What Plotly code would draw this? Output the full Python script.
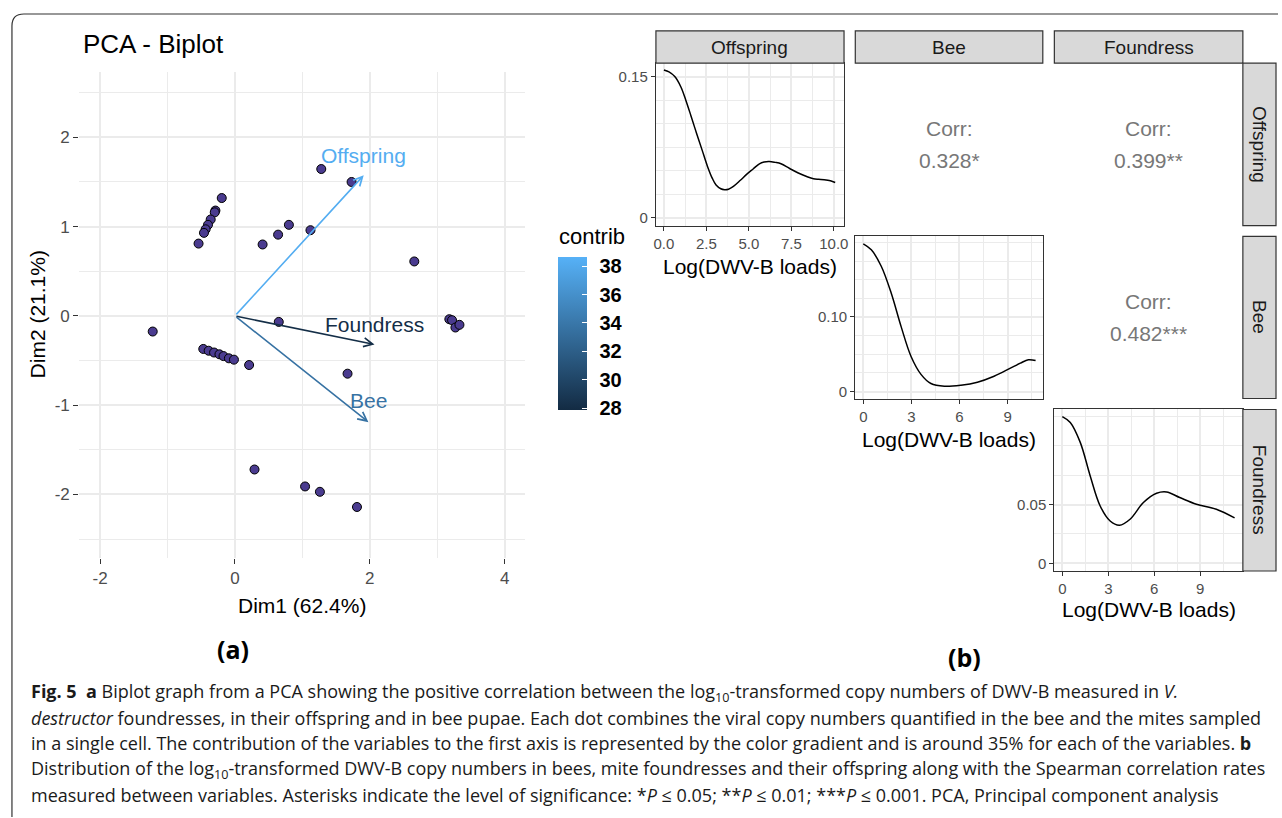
import plotly.graph_objects as go
from plotly.colors import sample_colorscale

# ---------------- data ----------------
# PCA individuals (Dim1, Dim2)
ind_dim1 = [-0.196, -0.29, -0.30, -0.36, -0.40, -0.435, -0.46, -0.54,
            0.41, 0.64, 0.80, 1.12, 1.28, 1.73, 2.66,
            3.18, 3.22, 3.27, 3.33, 0.65, -1.22,
            -0.47, -0.39, -0.31, -0.23, -0.17, -0.09, -0.015,
            0.21, 1.67, 0.29, 1.04, 1.26, 1.81]
ind_dim2 = [1.32, 1.18, 1.16, 1.08, 1.02, 0.97, 0.93, 0.81,
            0.80, 0.91, 1.02, 0.96, 1.645, 1.50, 0.61,
            -0.037, -0.048, -0.13, -0.10, -0.067, -0.175,
            -0.37, -0.39, -0.41, -0.43, -0.45, -0.475, -0.49,
            -0.55, -0.647, -1.72, -1.91, -1.97, -2.14]

# PCA variables
var_names = ["Offspring", "Foundress", "Bee"]
var_dim1 = [1.91, 2.07, 1.98]
var_dim2 = [1.575, -0.32, -1.19]
var_contrib = [38.3, 28.1, 33.6]
var_label_x = [1.90, 2.07, 1.98]
var_label_y = [1.80, -0.097, -0.95]

pca_xticks = [-2, 0, 2, 4]
pca_xtext = ["-2", "0", "2", "4"]
pca_yticks = [-2, -1, 0, 1, 2]
pca_ytext = ["-2", "-1", "0", "1", "2"]
contrib_ticks = [28, 30, 32, 34, 36, 38]

# Densities of log(DWV-B loads)
off_x = [0, 0.3, 0.64, 1.0, 1.29, 1.6, 1.92, 2.25, 2.56, 2.85, 3.07, 3.35, 3.57, 3.8,
         4.09, 4.5, 4.85, 5.25, 5.62, 5.9, 6.2, 6.55, 6.89, 7.4, 7.91, 8.4, 8.8, 9.1, 9.43, 9.8, 10.08]
off_y = [0.157, 0.155, 0.150, 0.139, 0.125, 0.108, 0.090, 0.072, 0.055, 0.042, 0.035, 0.031, 0.030, 0.0305,
         0.0335, 0.040, 0.046, 0.052, 0.0575, 0.0595, 0.060, 0.059, 0.0575, 0.0525, 0.0477, 0.0440, 0.0416,
         0.0410, 0.0406, 0.0395, 0.0377]
bee_x = [0, 0.5, 1.12, 1.74, 2.36, 2.98, 3.6, 4.22, 5.06, 6.09, 7.12, 8.16, 9.21, 9.8, 10.3, 10.75]
bee_y = [0.198, 0.190, 0.168, 0.132, 0.087, 0.047, 0.023, 0.0107, 0.0071, 0.0085, 0.0125, 0.0205,
         0.0317, 0.038, 0.0425, 0.0415]
fou_x = [0, 0.52, 1.17, 1.82, 2.47, 3.12, 3.73, 4.42, 5.29, 6.15, 6.80, 7.66, 8.75, 10.05, 11.24]
fou_y = [0.125, 0.120, 0.103, 0.0744, 0.0488, 0.036, 0.0324, 0.0375, 0.0517, 0.0596, 0.0607, 0.056,
         0.0503, 0.046, 0.0386]

corr_labels = {"(1,2)": "0.328*", "(1,3)": "0.399**", "(2,3)": "0.482***"}
strip_names = ["Offspring", "Bee", "Foundress"]

# ---------------- helpers ----------------
W, H = 1282, 818
def fx(p): return p / W
def fy(p): return 1 - p / H

FONT = "Liberation Sans, Arial, sans-serif"
GRID = "#EBEBEB"
DARK = "#333333"
cscale = [[0, "#132B43"], [1, "#56B1F7"]]
cmin, cmax = 27.88, 38.66
var_colors = sample_colorscale(cscale, [(c - cmin) / (cmax - cmin) for c in var_contrib])

fig = go.Figure()

# ---------------- (a) PCA biplot ----------------
fig.add_trace(go.Scatter(
    x=ind_dim1, y=ind_dim2, mode="markers", xaxis="x", yaxis="y",
    marker=dict(size=9, color="#4A3B8F", line=dict(color="black", width=1)),
    showlegend=False, hoverinfo="skip"))

cb_common = dict(x=fx(559), xanchor="left", y=fy(333.7), yanchor="middle",
                 len=152.7, lenmode="pixels", thickness=28.7, thicknessmode="pixels",
                 outlinewidth=0, tickvals=contrib_ticks, xpad=0, ypad=0)
# colour bar with labels (transparent outside ticks to space the labels)
fig.add_trace(go.Scatter(
    x=var_dim1, y=var_dim2, mode="markers", xaxis="x", yaxis="y",
    marker=dict(size=1, opacity=0, color=var_contrib, colorscale=cscale, cmin=cmin, cmax=cmax,
                showscale=True,
                colorbar=dict(**cb_common, ticks="outside", ticklen=9, tickcolor="rgba(0,0,0,0)",
                              tickfont=dict(size=20, color="black", family=FONT, weight="bold"))),
    showlegend=False, hoverinfo="skip"))
# same colour bar on top, carrying the white inside tick marks
fig.add_trace(go.Scatter(
    x=var_dim1, y=var_dim2, mode="markers", xaxis="x", yaxis="y",
    marker=dict(size=1, opacity=0, color=var_contrib, colorscale=cscale, cmin=cmin, cmax=cmax,
                showscale=True,
                colorbar=dict(**cb_common, ticks="inside", ticklen=5, tickcolor="white", tickwidth=1,
                              showticklabels=False)),
    showlegend=False, hoverinfo="skip"))

annotations = []
shapes = []

def pann(x, y, text, size, color="black", family=FONT, **kw):
    d = dict(x=fx(x), y=fy(y), xref="paper", yref="paper", text=text, showarrow=False,
             xanchor="center", yanchor="middle", font=dict(size=size, color=color, family=family))
    d.update(kw)
    annotations.append(d)

for i, name in enumerate(var_names):
    annotations.append(dict(x=var_dim1[i], y=var_dim2[i], ax=0, ay=0, xref="x", yref="y",
                            axref="x", ayref="y", text="", showarrow=True, arrowhead=5,
                            arrowsize=1.1, arrowwidth=1.6, arrowcolor=var_colors[i]))
    annotations.append(dict(x=var_label_x[i], y=var_label_y[i], xref="x", yref="y", text=name,
                            xanchor="center", yanchor="middle",
                            showarrow=False, font=dict(size=21, color=var_colors[i], family=FONT)))

pann(558, 236.7, "contrib", 22, xanchor="left")

# dashed reference lines
shapes.append(dict(type="line", xref="x", yref="y domain", x0=0, x1=0, y0=0, y1=1,
                   line=dict(color="black", width=1.8, dash="dash"), layer="below"))
shapes.append(dict(type="line", xref="x domain", yref="y", x0=0, x1=1, y0=0, y1=0,
                   line=dict(color="black", width=1.8, dash="dash"), layer="below"))

layout_axes = dict(
    xaxis=dict(domain=[fx(77.6), fx(525.3)], range=[-2.31, 4.30], anchor="y",
               tickvals=pca_xticks, ticktext=pca_xtext, ticks="outside", ticklen=5, tickwidth=1.3,
               tickcolor=DARK, tickfont=dict(size=17, color="#4D4D4D", family=FONT),
               showgrid=True, gridcolor=GRID, gridwidth=1.6, zeroline=False, showline=False,
               minor=dict(tickvals=[-1, 1, 3], showgrid=True, gridcolor=GRID, gridwidth=0.9, ticks="")),
    yaxis=dict(domain=[fy(558.3), fy(71.7)], range=[-2.707, 2.736], anchor="x",
               tickvals=pca_yticks, ticktext=pca_ytext, ticks="outside", ticklen=5, tickwidth=1.3,
               tickcolor=DARK, tickfont=dict(size=17, color="#4D4D4D", family=FONT),
               showgrid=True, gridcolor=GRID, gridwidth=1.6, zeroline=False, showline=False,
               minor=dict(tickvals=[-2.5, -1.5, -0.5, 0.5, 1.5, 2.5], showgrid=True,
                          gridcolor=GRID, gridwidth=0.9, ticks="")),
)

pann(79, 44, "PCA - Biplot", 26, xanchor="left")
pann(301.5, 606.7, "Dim1 (62.4%)", 21)
pann(36, 315, "Dim2 (21.1%)", 21, textangle=-90)

# ---------------- (b) pairs matrix ----------------
cols = [(657, 846), (857.3, 1045.7), (1057.3, 1246.7)]
rows = [(63.3, 226), (236.7, 399), (410, 571.7)]

off_rng = [-0.5, 10.58]
bee_rng = [-0.5, 11.2]
fou_rng = [-0.52, 11.78]
ticks3 = [0, 3, 6, 9]
minor3 = [1.5, 4.5, 7.5, 10.5]
ticks25 = [0, 2.5, 5, 7.5, 10]
minor25 = [1.25, 3.75, 6.25, 8.75]

def ax_style(dom, rng, tv, mv, labels, ttext=None, anchor=None, fmt=None):
    d = dict(domain=dom, range=rng, anchor=anchor, tickvals=tv, showgrid=True, gridcolor=GRID,
             gridwidth=1.5, zeroline=False, showline=True, mirror=True, linecolor=DARK, linewidth=1.2,
             minor=dict(tickvals=mv, showgrid=True, gridcolor=GRID, gridwidth=1.0, ticks=""))
    if labels:
        d.update(ticks="outside", ticklen=4, tickcolor=DARK, tickwidth=1,
                 tickfont=dict(size=15, color="#4D4D4D", family=FONT), showticklabels=True)
        if ttext is not None:
            d["ticktext"] = ttext
        if fmt:
            d["tickformat"] = fmt
    else:
        d.update(ticks="", showticklabels=False)
    return d

def xdom(c): return [fx(cols[c][0]), fx(cols[c][1])]
def ydom(r): return [fy(rows[r][1]), fy(rows[r][0])]

layout_axes["xaxis2"] = ax_style(xdom(0), [-0.469, 10.6], ticks25, minor25, True, anchor="y2", fmt=".1f")
layout_axes["yaxis2"] = ax_style(ydom(0), [-0.0082, 0.1642], [0, 0.15],
                                 [0.025, 0.05, 0.075, 0.10, 0.125], True, ["0", "0.15"], anchor="x2")
layout_axes["xaxis3"] = ax_style(xdom(1), bee_rng, ticks3, minor3, False, anchor="y3")
layout_axes["yaxis3"] = ax_style(ydom(0), off_rng, ticks25, minor25, False, anchor="x3")
layout_axes["xaxis4"] = ax_style(xdom(2), fou_rng, ticks3, minor3, False, anchor="y4")
layout_axes["yaxis4"] = ax_style(ydom(0), off_rng, ticks25, minor25, False, anchor="x4")
layout_axes["xaxis5"] = ax_style(xdom(1), bee_rng, ticks3, minor3, True, anchor="y5")
layout_axes["yaxis5"] = ax_style(ydom(1), [-0.0094, 0.208], [0, 0.10],
                                 [0.025, 0.05, 0.075, 0.125, 0.15, 0.175, 0.2], True, ["0", "0.10"], anchor="x5")
layout_axes["xaxis6"] = ax_style(xdom(2), fou_rng, ticks3, minor3, False, anchor="y6")
layout_axes["yaxis6"] = ax_style(ydom(1), bee_rng, ticks3, minor3, False, anchor="x6")
layout_axes["xaxis7"] = ax_style(xdom(2), fou_rng, ticks3, minor3, True, anchor="y7")
layout_axes["yaxis7"] = ax_style(ydom(2), [-0.0066, 0.131], [0, 0.05],
                                 [0.025, 0.075, 0.10, 0.125], True, ["0", "0.05"], anchor="x7")

for xs, ys, ax in [(off_x, off_y, "2"), (bee_x, bee_y, "5"), (fou_x, fou_y, "7")]:
    fig.add_trace(go.Scatter(x=xs, y=ys, mode="lines", xaxis="x" + ax, yaxis="y" + ax,
                             line=dict(color="black", width=1.5, shape="spline", smoothing=1.0),
                             showlegend=False, hoverinfo="skip"))

# corr text
for (r, c), key in [((0, 1), "(1,2)"), ((0, 2), "(1,3)"), ((1, 2), "(2,3)")]:
    cx = (cols[c][0] + cols[c][1]) / 2
    cy = (rows[r][0] + rows[r][1]) / 2
    pann(cx, cy - 15.5, "Corr:", 21, "#777777")
    pann(cx, cy + 16, corr_labels[key], 21, "#777777")

# strips
for c, name in enumerate(strip_names):
    shapes.append(dict(type="rect", xref="paper", yref="paper", x0=fx(cols[c][0]), x1=fx(cols[c][1]),
                       y0=fy(63.3), y1=fy(31), fillcolor="#D9D9D9", line=dict(color=DARK, width=1.2)))
    pann((cols[c][0] + cols[c][1]) / 2, 47.2, name, 19, "#1A1A1A")
for r, name in enumerate(strip_names):
    shapes.append(dict(type="rect", xref="paper", yref="paper", x0=fx(1246.7), x1=fx(1280),
                       y0=fy(rows[r][1]), y1=fy(rows[r][0]), fillcolor="#D9D9D9",
                       line=dict(color=DARK, width=1.2)))
    pann(1263.3, (rows[r][0] + rows[r][1]) / 2, name, 19, "#1A1A1A", textangle=90)

# density x-axis titles
for c, yy in [(0, 266.7), (1, 440), (2, 610)]:
    pann((cols[c][0] + cols[c][1]) / 2, yy, "Log(DWV-B loads)", 21)

# panel labels
pann(232, 650, "<b>(a)</b>", 25, family="Open Sans")
pann(967, 658, "<b>(b)</b>", 25, family="Open Sans")

# caption
caption = [
    "<b>Fig. 5</b>  <b>a</b> Biplot graph from a PCA showing the positive correlation between the "
    "log<sub>10</sub>-transformed copy numbers of DWV-B measured in <i>V.</i>",
    "<i>destructor</i> foundresses, in their offspring and in bee pupae. Each dot combines the viral copy "
    "numbers quantified in the bee and the mites sampled",
    "in a single cell. The contribution of the variables to the first axis is represented by the color "
    "gradient and is around 35% for each of the variables. <b>b</b>",
    "Distribution of the log<sub>10</sub>-transformed DWV-B copy numbers in bees, mite foundresses and "
    "their offspring along with the Spearman correlation rates",
    "measured between variables. Asterisks indicate the level of significance: *<i>P</i> ≤ 0.05; "
    "**<i>P</i> ≤ 0.01; ***<i>P</i> ≤ 0.001. PCA, Principal component analysis",
]
cap_y = [693, 719, 744, 770, 796]
for t, yy in zip(caption, cap_y):
    pann(27, yy, t, 18, "#1A1A1A", family="Open Sans", xanchor="left")

# frame with rounded top-left corner
shapes.append(dict(type="path", xref="paper", yref="paper",
                   path=f"M {fx(10)},{fy(818)} L {fx(10)},{fy(26)} Q {fx(10)},{fy(14)} {fx(22)},{fy(14)} "
                        f"L {fx(1282)},{fy(14)}",
                   line=dict(color=DARK, width=1.2)))

fig.update_layout(
    width=W, height=H, margin=dict(l=0, r=0, t=0, b=0),
    paper_bgcolor="white", plot_bgcolor="white",
    font=dict(family=FONT, color="black"),
    showlegend=False, annotations=annotations, shapes=shapes, **layout_axes)

fig.write_html("out.html", config={"displayModeBar": False},
               post_script="document.body.style.margin='0px';")
